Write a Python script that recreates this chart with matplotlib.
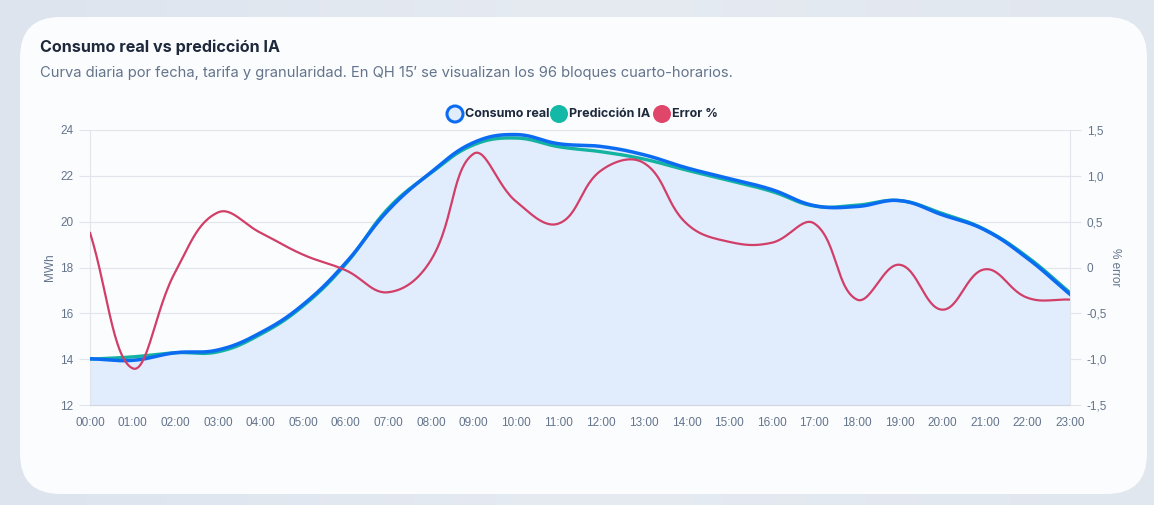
import numpy as np
import matplotlib
matplotlib.use("Agg")
import matplotlib.pyplot as plt
from matplotlib.patches import FancyBboxPatch, Ellipse
from matplotlib.ticker import FuncFormatter
from matplotlib.colors import LinearSegmentedColormap

# ---------------- data ----------------
hours = [f"{h:02d}:00" for h in range(24)]
consumo_real = [14.02, 13.95, 14.28, 14.40, 15.15, 16.38, 18.20, 20.50, 22.15, 23.45,
                23.80, 23.40, 23.28, 22.92, 22.35, 21.88, 21.40, 20.70, 20.66, 20.92,
                20.30, 19.64, 18.40, 16.83]
prediccion_ia = [14.00, 14.10, 14.28, 14.32, 15.08, 16.32, 18.15, 20.58, 22.12, 23.35,
                 23.65, 23.27, 23.05, 22.73, 22.25, 21.80, 21.32, 20.68, 20.72, 20.92,
                 20.36, 19.66, 18.46, 16.90]
error_pct = [0.38, -1.10, -0.05, 0.60, 0.38, 0.14, -0.03, -0.27, 0.08, 1.24,
             0.72, 0.48, 1.06, 1.14, 0.48, 0.28, 0.27, 0.48, -0.35, 0.03,
             -0.46, -0.02, -0.33, -0.35]
left_ticks = [12, 14, 16, 18, 20, 22, 24]
right_ticks = [-1.5, -1.0, -0.5, 0, 0.5, 1.0, 1.5]

W, H = 1154, 505
DPI = 100
fig = plt.figure(figsize=(W / DPI, H / DPI), dpi=DPI)
fig.patch.set_facecolor("#e2e8f0")

# background gradient
bg = fig.add_axes([0, 0, 1, 1], zorder=-10)
grad = np.linspace(0, 1, 256)[None, :]
cm_bg = LinearSegmentedColormap.from_list("bg", ["#dde4ee", "#e6ebf2", "#e1e7ef"])
bg.imshow(grad, aspect="auto", cmap=cm_bg, extent=[0, 1, 0, 1])
bg.set_xlim(0, 1); bg.set_ylim(0, 1); bg.axis("off")

# card
card = FancyBboxPatch((20 / W, 1 - 494 / H), (1147 - 20) / W, (494 - 17) / H,
                      boxstyle="round,pad=0,rounding_size=0.035",
                      transform=fig.transFigure, facecolor="#fbfcfe",
                      edgecolor="none", zorder=-5, mutation_aspect=W / H)
fig.patches.append(card)

TXT = "#1e293b"
MUTED = "#64748b"
fig.text(40 / W, 1 - 47 / H, "Consumo real vs predicción IA", fontsize=11.6, fontweight="bold",
         color=TXT, va="center", ha="left", family="Inter")
fig.text(40 / W, 1 - 73 / H,
         "Curva diaria por fecha, tarifa y granularidad. En QH 15′ se visualizan los 96 bloques cuarto-horarios.",
         fontsize=10.6, color=MUTED, va="center", ha="left", family="Inter")

L, R, T, B = 90, 1070, 130, 405
ax = fig.add_axes([L / W, 1 - B / H, (R - L) / W, (B - T) / H])
ax2 = ax.twinx()
ax.set_zorder(2); ax2.set_zorder(3)
ax.patch.set_visible(False); ax2.patch.set_visible(False)

x = np.arange(len(hours))
ax.set_xlim(0, len(hours) - 1)
ax.set_ylim(12, 24)
ax2.set_ylim(-1.5, 1.5)


def spline(axis, xs, ys, tension=0.4, n=30):
    """Chart.js-like bezier smoothing, computed in pixel space."""
    pts = axis.transData.transform(np.column_stack([xs, ys]))
    m = len(pts)
    cps = []
    for i in range(m):
        prev = pts[max(i - 1, 0)]
        cur = pts[i]
        nxt = pts[min(i + 1, m - 1)]
        d01 = np.hypot(*(cur - prev))
        d12 = np.hypot(*(nxt - cur))
        tot = d01 + d12
        s01 = d01 / tot if tot else 0
        s12 = d12 / tot if tot else 0
        fa = tension * s01
        fb = tension * s12
        cps.append((cur - fa * (nxt - prev), cur + fb * (nxt - prev)))
    out = []
    t = np.linspace(0, 1, n)[:, None]
    for i in range(m - 1):
        p0 = pts[i]; p1 = cps[i][1]; p2 = cps[i + 1][0]; p3 = pts[i + 1]
        seg = ((1 - t) ** 3) * p0 + 3 * ((1 - t) ** 2) * t * p1 + 3 * (1 - t) * t ** 2 * p2 + t ** 3 * p3
        out.append(seg if i == 0 else seg[1:])
    out = np.vstack(out)
    return axis.transData.inverted().transform(out)

BLUE = "#0b6cf2"
TEAL = "#14b3a0"
RED = "#d13f68"

real_c = spline(ax, x, consumo_real)
pred_c = spline(ax, x, prediccion_ia)
err_c = spline(ax2, x, error_pct)

ax.fill_between(real_c[:, 0], 12, real_c[:, 1], color="#e1ecfd", zorder=1, lw=0)
ax2.plot(err_c[:, 0], err_c[:, 1], color=RED, lw=1.6, zorder=2, solid_capstyle="round")
ax.plot(pred_c[:, 0], pred_c[:, 1], color=TEAL, lw=2.4, zorder=3)
ax.plot(real_c[:, 0], real_c[:, 1], color=BLUE, lw=2.5, zorder=4)

GRID = "#e2e6ec"
ax.set_yticks(left_ticks)
ax.grid(axis="y", color=GRID, lw=0.9)
ax.grid(axis="x", visible=False)
ax.set_axisbelow(True)
ax.set_xticks(x)
ax.set_xticklabels(hours)
ax2.set_yticks(right_ticks)
ax2.yaxis.set_major_formatter(FuncFormatter(
    lambda v, p: "0" if abs(v) < 1e-9 else f"{v:.1f}".replace(".", ",")))

for a in (ax, ax2):
    for s in a.spines.values():
        s.set_visible(False)
ax.spines["left"].set_visible(True)
ax.spines["left"].set_color(GRID)
ax.spines["bottom"].set_visible(True)
ax.spines["bottom"].set_color("#cfd6e0")
ax2.spines["right"].set_visible(True)
ax2.spines["right"].set_color(GRID)

ax.tick_params(axis="y", length=8, color=GRID, labelcolor=MUTED, labelsize=8.5, pad=4)
ax.tick_params(axis="x", length=0, labelcolor=MUTED, labelsize=8.5, pad=9)
ax2.tick_params(axis="y", length=8, color=GRID, labelcolor=MUTED, labelsize=8.5, pad=4)
for lab in ax.get_xticklabels() + ax.get_yticklabels() + ax2.get_yticklabels():
    lab.set_family("Liberation Sans")

ax.set_ylabel("MWh", color=MUTED, fontsize=8.5, family="Liberation Sans", labelpad=3)
ax2.set_ylabel("% error", color=MUTED, fontsize=8.5, family="Liberation Sans",
               rotation=-90, labelpad=10)

# legend (custom, chart.js style)
leg_y = 1 - 114 / H
items = [("Consumo real", "#e1ecfd", BLUE, 455), ("Predicción IA", "#14b8a6", "#14b8a6", 559),
         ("Error %", "#e0456a", "#e0456a", 662)]
for label, fc, ec, cx in items:
    outlined = fc != ec
    r = 8.0 if outlined else 9.0
    fig.patches.append(Ellipse((cx / W, leg_y), 2 * r / W, 2 * r / H, transform=fig.transFigure,
                               facecolor=fc, edgecolor=ec, lw=2.2 if outlined else 0))
    fig.text((cx + 10) / W, leg_y, label, fontsize=9, fontweight="bold",
             color=TXT, va="center", ha="left", family="Inter")

fig.savefig("out.png", dpi=DPI)
